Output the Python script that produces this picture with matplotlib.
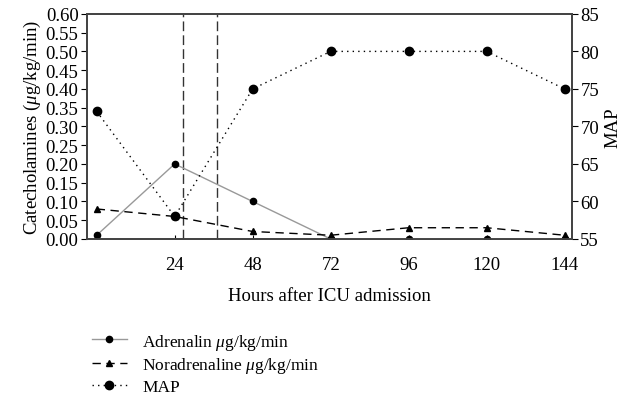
import matplotlib.pyplot as plt
import numpy as np

plt.rcParams['font.family'] = ['Liberation Serif', 'DejaVu Serif']
plt.rcParams['mathtext.fontset'] = 'custom'
plt.rcParams['mathtext.it'] = 'Liberation Serif:italic'
plt.rcParams['mathtext.rm'] = 'Liberation Serif'

hours = [0, 24, 48, 72, 96, 120, 144]
adrenalin = [0.01, 0.20, 0.10, 0.00, 0.00, 0.00, 0.00]
noradrenaline = [0.08, 0.06, 0.02, 0.01, 0.03, 0.03, 0.01]
map_values = [72, 58, 75, 80, 80, 80, 75]
event_hours = [26.5, 37]

fig = plt.figure(figsize=(6.3, 4.02), dpi=100)
ax = fig.add_axes([0.138, 0.403, 0.770, 0.560])
ax2 = ax.twinx()

l1, = ax.plot(hours, adrenalin, color='#999999', linewidth=1.0, marker='o',
              markersize=4.5, markerfacecolor='black', markeredgecolor='black', zorder=3)
l2, = ax.plot(hours, noradrenaline, color='black', linestyle=(0, (6, 4)), linewidth=1.0,
              marker='^', markersize=4.5, zorder=3)
l3, = ax2.plot(hours, map_values, color='black', linestyle=(0, (1, 3)), linewidth=1.0,
               marker='o', markersize=6, zorder=3)
for h in event_hours:
    ax.axvline(h, color='#333333', linestyle=(0, (7, 3)), linewidth=1.0)

ax.set_xlim(-3, 146.3)
ax.set_ylim(0, 0.60)
ax.set_yticks(np.arange(0, 0.601, 0.05))
ax.set_yticklabels([f'{v:.2f}' for v in np.arange(0, 0.601, 0.05)])
ax.set_xticks(hours[1:])
ax2.set_ylim(55, 85)
ax2.set_yticks(range(55, 86, 5))

ax.set_ylabel('Catecholamines ($\\mu$g/kg/min)', fontsize=13.5, labelpad=2)
ax2.set_ylabel('MAP', fontsize=13.5, labelpad=4)
ax.set_xlabel('Hours after ICU admission', fontsize=13.5, labelpad=10)

for a in (ax, ax2):
    a.tick_params(labelsize=13.5, length=4, width=0.8, pad=2)
    for s in a.spines.values():
        s.set_color('#444444')
        s.set_linewidth(1.3)
ax.tick_params(axis='x', direction='in', length=3, pad=12)

fig.legend([l1, l2, l3],
           ['Adrenalin $\\mu$g/kg/min', 'Noradrenaline $\\mu$g/kg/min', 'MAP'],
           loc='upper left', bbox_to_anchor=(0.135, 0.19), frameon=False,
           fontsize=12.5, handlelength=2.0, handletextpad=0.9,
           labelspacing=0.2, borderaxespad=0)

fig.savefig('out.png', dpi=100)
